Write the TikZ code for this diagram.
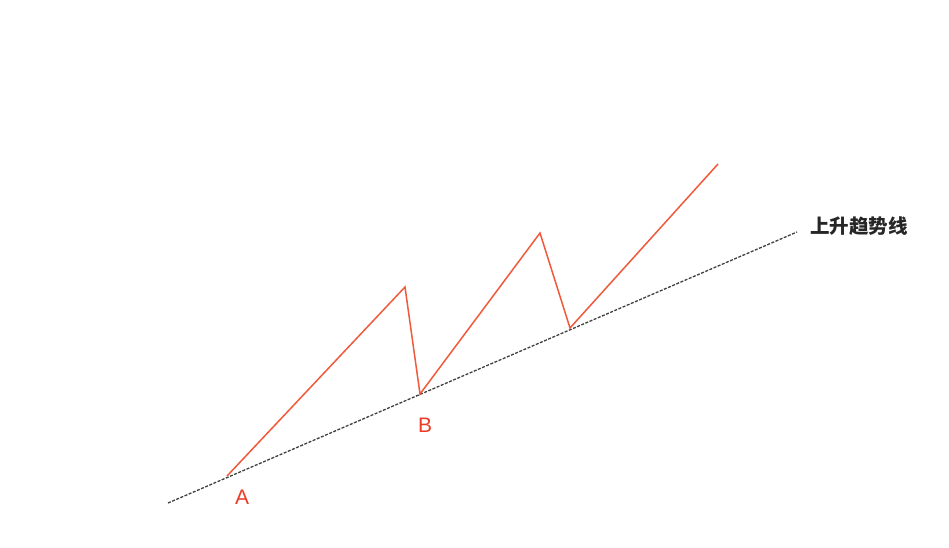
\documentclass[tikz,border=0pt]{standalone}
\usepackage{fontspec}
\setmainfont{Liberation Sans}
\newfontfamily\cjk{Noto Sans CJK SC}
\definecolor{trend}{RGB}{240,90,60}
\definecolor{lab}{RGB}{235,60,40}
\begin{document}
\begin{tikzpicture}[x=1pt,y=-1pt,
  wave/.style={draw=trend,line width=1.5pt,line join=miter},
  trendline/.style={draw=black!75,dashed,dash pattern=on 3pt off 1.5pt,line width=1.3pt},
  ptlabel/.style={text=lab,font=\fontsize{21}{21}\selectfont},
  cjklabel/.style={text=black!85,font=\cjk\bfseries\fontsize{19.5}{19.5}\selectfont}]
\useasboundingbox[fill=white] (0,0) rectangle (949,548);
\coordinate (L0) at (168,503);
\coordinate (L1) at (797,232);
\coordinate (A) at (227,476);
\coordinate (P1) at (405,287);
\coordinate (B) at (420,394);
\coordinate (P2) at (540,233);
\coordinate (T) at (570,328);
\coordinate (E) at (718,164);
\draw[trendline] (L0) -- (L1);
\draw[wave] (A) -- (P1) -- (B) -- (P2) -- (T) -- (E);
\node[ptlabel] (la) at (242,497) {A};
\node[ptlabel] (lb) at (425,425) {B};
\node[cjklabel] (lt) at (859,226) {上升趋势线};
\end{tikzpicture}
\end{document}
